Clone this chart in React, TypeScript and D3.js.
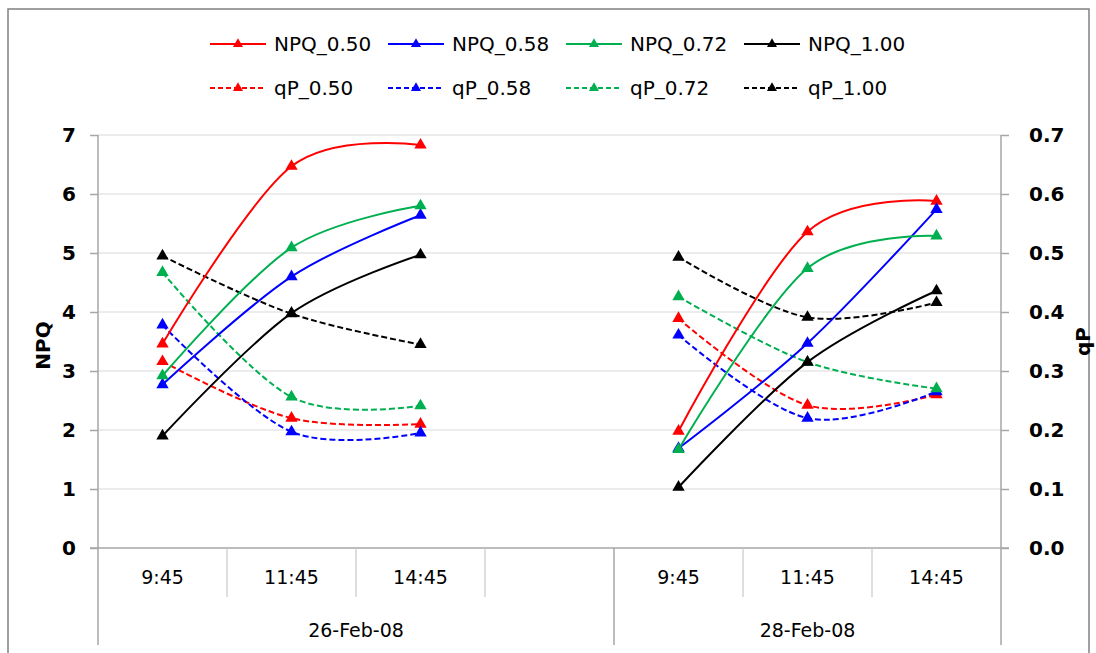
import { useRef, useEffect } from "react";
import * as d3 from "d3";

// category slots on the x axis (slot 3 is an empty gap between the two days)
const categories = ["9:45", "11:45", "14:45", "", "9:45", "11:45", "14:45"];
const dayLabels = ["26-Feb-08", "28-Feb-08"];
const daySlots = [
  [0, 1, 2],
  [4, 5, 6],
];
const daySpans = [4, 3];

const npqTicks = [0, 1, 2, 3, 4, 5, 6, 7];
const qpTicks = [0, 0.1, 0.2, 0.3, 0.4, 0.5, 0.6, 0.7];

const seriesNames = ["0.50", "0.58", "0.72", "1.00"];
const seriesColors = ["#ff0000", "#0000ff", "#00b050", "#000000"];

// NPQ per light level, [day1 values, day2 values]
const npq050 = [[3.46, 6.47, 6.83], [1.98, 5.36, 5.88]];
const npq058 = [[2.77, 4.6, 5.64], [1.69, 3.47, 5.74]];
const npq072 = [[2.92, 5.09, 5.8], [1.67, 4.74, 5.29]];
const npq100 = [[1.9, 3.98, 4.97], [1.03, 3.15, 4.36]];

// qP per light level
const qp050 = [[0.316, 0.22, 0.21], [0.389, 0.242, 0.26]];
const qp058 = [[0.378, 0.197, 0.195], [0.361, 0.22, 0.265]];
const qp072 = [[0.467, 0.256, 0.241], [0.426, 0.315, 0.27]];
const qp100 = [[0.495, 0.397, 0.345], [0.493, 0.391, 0.416]];

const npqSeries = [npq050, npq058, npq072, npq100];
const qpSeries = [qp050, qp058, qp072, qp100];

const FONT = "'DejaVu Sans', sans-serif";

export default function App() {
  const svgRef = useRef<SVGSVGElement>(null);
  const width = 1096;
  const height = 653;

  useEffect(() => {
    if (!svgRef.current) return;
    const svg = d3.select(svgRef.current);
    svg.selectAll("*").remove();

    const left = 98;
    const right = 1001;
    const top = 135;
    const bottom = 548;

    // outer chart frame
    svg
      .append("rect")
      .attr("x", 8)
      .attr("y", 9)
      .attr("width", 1081)
      .attr("height", 660)
      .attr("fill", "white")
      .attr("stroke", "#808080")
      .attr("stroke-width", 1.5);

    const x = d3
      .scaleBand<number>()
      .domain(categories.map((_, i) => i))
      .range([left, right]);
    const yL = d3.scaleLinear().domain([0, 7]).range([bottom, top]);
    const yR = d3.scaleLinear().domain([0, 0.7]).range([bottom, top]);

    // gridlines
    svg
      .append("g")
      .selectAll("line")
      .data(npqTicks.filter((t) => t > 0))
      .join("line")
      .attr("x1", left)
      .attr("x2", right)
      .attr("y1", (d) => yL(d))
      .attr("y2", (d) => yL(d))
      .attr("stroke", "#d9d9d9")
      .attr("stroke-width", 1.2);

    const axisColor = "#a6a6a6";

    // left axis
    const gl = svg
      .append("g")
      .attr("transform", `translate(${left},0)`)
      .call(
        d3
          .axisLeft(yL)
          .tickValues(npqTicks)
          .tickSize(8)
          .tickPadding(14)
          .tickFormat(d3.format("d"))
      );
    gl.select(".domain").remove();
    gl.selectAll(".tick line").attr("stroke", axisColor).attr("stroke-width", 1.5);
    gl.selectAll(".tick text")
      .attr("font-family", FONT)
      .attr("font-size", 20)
      .attr("font-weight", "bold")
      .attr("fill", "#000");

    // right axis
    const gr = svg
      .append("g")
      .attr("transform", `translate(${right},0)`)
      .call(
        d3
          .axisRight(yR)
          .tickValues(qpTicks)
          .tickSize(8)
          .tickPadding(20)
          .tickFormat(d3.format(".1f"))
      );
    gr.select(".domain").remove();
    gr.selectAll(".tick line").attr("stroke", axisColor).attr("stroke-width", 1.5);
    gr.selectAll(".tick text")
      .attr("font-family", FONT)
      .attr("font-size", 20)
      .attr("font-weight", "bold")
      .attr("fill", "#000");

    // vertical axis lines, running down through the category area
    const catBottom = 597;
    const dayBottom = 645;
    [left, right].forEach((vx) => {
      svg
        .append("line")
        .attr("x1", vx)
        .attr("x2", vx)
        .attr("y1", top)
        .attr("y2", dayBottom)
        .attr("stroke", axisColor)
        .attr("stroke-width", 1.5);
    });

    // horizontal axis line
    svg
      .append("line")
      .attr("x1", left - 8)
      .attr("x2", right + 8)
      .attr("y1", bottom)
      .attr("y2", bottom)
      .attr("stroke", axisColor)
      .attr("stroke-width", 1.5);

    // category separators
    let slot = 0;
    daySpans.forEach((span, di) => {
      for (let k = 1; k < span; k++) {
        const sx = x(slot + k)!;
        svg
          .append("line")
          .attr("x1", sx)
          .attr("x2", sx)
          .attr("y1", bottom)
          .attr("y2", catBottom)
          .attr("stroke", "#c8c8c8")
          .attr("stroke-width", 1.2);
      }
      slot += span;
      if (di < daySpans.length - 1) {
        const sx = x(slot)!;
        svg
          .append("line")
          .attr("x1", sx)
          .attr("x2", sx)
          .attr("y1", bottom)
          .attr("y2", dayBottom)
          .attr("stroke", axisColor)
          .attr("stroke-width", 1.5);
      }
    });

    // category labels
    svg
      .append("g")
      .selectAll("text")
      .data(categories)
      .join("text")
      .attr("x", (_, i) => x(i)! + x.bandwidth() / 2)
      .attr("y", 577)
      .attr("dy", "0.35em")
      .attr("text-anchor", "middle")
      .attr("font-family", FONT)
      .attr("font-size", 19)
      .attr("fill", "#000")
      .text((d) => d);

    // day labels
    let start = 0;
    daySpans.forEach((span, di) => {
      const x0 = x(start)!;
      const x1 = x(start + span - 1)! + x.bandwidth();
      svg
        .append("text")
        .attr("x", (x0 + x1) / 2)
        .attr("y", 630)
        .attr("dy", "0.35em")
        .attr("text-anchor", "middle")
        .attr("font-family", FONT)
        .attr("font-size", 19)
        .attr("fill", "#000")
        .text(dayLabels[di]);
      start += span;
    });

    // axis titles
    svg
      .append("text")
      .attr("transform", `translate(43,${(top + bottom) / 2 + 4}) rotate(-90)`)
      .attr("dy", "0.35em")
      .attr("text-anchor", "middle")
      .attr("font-family", FONT)
      .attr("font-size", 20)
      .attr("font-weight", "bold")
      .text("NPQ");
    svg
      .append("text")
      .attr("transform", `translate(1083,${(top + bottom) / 2}) rotate(-90)`)
      .attr("dy", "0.35em")
      .attr("text-anchor", "middle")
      .attr("font-family", FONT)
      .attr("font-size", 20)
      .attr("font-weight", "bold")
      .text("qP");

    const tri = d3.symbol().type(d3.symbolTriangle).size(66);
    const cx = (i: number) => x(i)! + x.bandwidth() / 2;

    const drawSeries = (
      groups: number[][],
      yScale: d3.ScaleLinear<number, number>,
      color: string,
      dashed: boolean
    ) => {
      groups.forEach((vals, di) => {
        const pts: [number, number][] = vals.map((v, k) => [
          cx(daySlots[di][k]),
          yScale(v),
        ]);
        const line = d3.line().curve(d3.curveCardinal.tension(0));
        svg
          .append("path")
          .attr("d", line(pts))
          .attr("fill", "none")
          .attr("stroke", color)
          .attr("stroke-width", 2)
          .attr("stroke-dasharray", dashed ? "6,3" : null);
        pts.forEach(([px, py]) => {
          svg
            .append("path")
            .attr("d", tri())
            .attr("transform", `translate(${px},${py})`)
            .attr("fill", color);
        });
      });
    };

    qpSeries.forEach((s, i) => drawSeries(s, yR, seriesColors[i], true));
    npqSeries.forEach((s, i) => drawSeries(s, yL, seriesColors[i], false));

    // legend
    const legendCols = [210, 388, 566, 744];
    const legendRows = [
      { y: 44, prefix: "NPQ_", dashed: false },
      { y: 88, prefix: "qP_", dashed: true },
    ];
    const smallTri = d3.symbol().type(d3.symbolTriangle).size(44);
    legendRows.forEach((row) => {
      seriesNames.forEach((name, i) => {
        const lx = legendCols[i];
        const color = seriesColors[i];
        svg
          .append("line")
          .attr("x1", lx)
          .attr("x2", lx + 56)
          .attr("y1", row.y)
          .attr("y2", row.y)
          .attr("stroke", color)
          .attr("stroke-width", 2)
          .attr("stroke-dasharray", row.dashed ? "5,3" : null);
        svg
          .append("path")
          .attr("d", smallTri())
          .attr("transform", `translate(${lx + 28},${row.y})`)
          .attr("fill", color);
        svg
          .append("text")
          .attr("x", lx + 64)
          .attr("y", row.y)
          .attr("dy", "0.35em")
          .attr("font-family", FONT)
          .attr("font-size", 20)
          .attr("fill", "#000")
          .text(row.prefix + name);
      });
    });
  }, []);

  return (
    <svg
      ref={svgRef}
      width={width}
      height={height}
      style={{ position: "absolute", left: 0, top: 0, background: "white" }}
    />
  );
}
